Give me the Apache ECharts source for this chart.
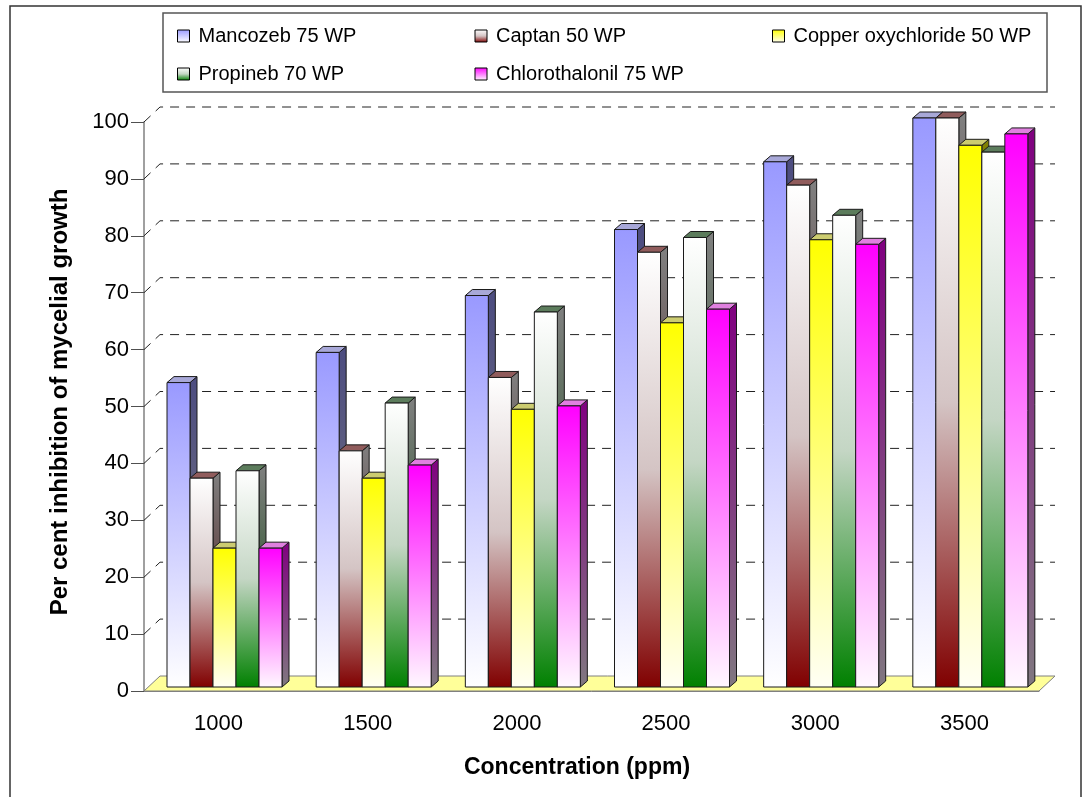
<!DOCTYPE html>
<html><head><meta charset="utf-8">
<script src="https://cdn.jsdelivr.net/npm/echarts@6/dist/echarts.min.js"></script>
<style>html,body{margin:0;padding:0;background:#fff}#c{width:1090px;height:797px}</style>
</head><body><div id="c"></div>
<script>
// ---- data ----
const categories = ['1000', '1500', '2000', '2500', '3000', '3500'];
const seriesNames = ['Mancozeb 75 WP', 'Captan 50 WP', 'Copper oxychloride 50 WP', 'Propineb 70 WP', 'Chlorothalonil 75 WP'];
const mancozeb = [53.5, 58.8, 68.8, 80.4, 92.3, 100];
const captan = [36.7, 41.5, 54.4, 76.4, 88.2, 100];
const copper = [24.4, 36.7, 48.8, 64.0, 78.6, 95.2];
const propineb = [38.0, 49.9, 65.9, 79.0, 82.9, 94.0];
const chlorothalonil = [24.4, 39.0, 49.4, 66.4, 77.8, 97.2];
const yTicks = [0, 10, 20, 30, 40, 50, 60, 70, 80, 90, 100];
const allValues = [mancozeb, captan, copper, propineb, chlorothalonil];

// ---- styles ----
const FONT = '"Liberation Sans", Arial, Helvetica, sans-serif';
const palette = [
  {front: [[0, '#9999FF'], [1, '#FFFFFF']], side: [[0, '#4C4C80'], [1, '#808080']], top: '#A8A8D8'},
  {front: [[0, '#FFFFFF'], [0.5, '#D4C4C4'], [1, '#800000']], side: [[0, '#808080'], [1, '#400000']], top: '#905C5C'},
  {front: [[0, '#FFFF00'], [1, '#FFFFF4']], side: [[0, '#808000'], [1, '#808080']], top: '#CCCC70'},
  {front: [[0, '#FFFFFF'], [0.5, '#C4D6C4'], [1, '#008000']], side: [[0, '#808080'], [1, '#004000']], top: '#5C7C5C'},
  {front: [[0, '#FF00FF'], [1, '#FFF8FF']], side: [[0, '#800080'], [1, '#807880']], top: '#E080E0'}
];
function grad(stops) {
  return new echarts.graphic.LinearGradient(0, 0, 0, 1, stops.map(s => ({offset: s[0], color: s[1]})));
}
const DX = 7, DY = 6, LIFT = 4, WALL_DX = 16, WALL_DY = 15;

function barRenderer(s) {
  return function (params, api) {
    const ci = api.value(0), v = api.value(1);
    const base = api.coord([ci, 0]);
    const tp = api.coord([ci, v]);
    const band = api.size([1, 0])[0];
    const bw = band * 0.1542;
    const x0 = base[0] - band / 2 + bw * (1 + s);
    const x1 = x0 + bw;
    const yb = base[1] - LIFT, yt = tp[1] - LIFT;
    const c = palette[s];
    const st = {stroke: '#1a1a1a', lineWidth: 1};
    return {type: 'group', children: [
      {type: 'polygon', shape: {points: [[x1, yt], [x1 + DX, yt - DY], [x1 + DX, yb - DY], [x1, yb]]},
        style: Object.assign({fill: grad(c.side)}, st)},
      {type: 'polygon', shape: {points: [[x0, yt], [x0 + DX, yt - DY], [x1 + DX, yt - DY], [x1, yt]]},
        style: Object.assign({fill: c.top}, st)},
      {type: 'rect', shape: {x: x0, y: yt, width: bw, height: yb - yt},
        style: Object.assign({fill: grad(c.front)}, st)}
    ]};
  };
}

function wallRenderer(params, api) {
  const v = api.value(1);
  const cs = params.coordSys;
  const left = cs.x, right = cs.x + cs.width;
  const y = api.coord([0, v])[1];
  if (v === 0) {
    return {type: 'polygon', shape: {points: [[left, y], [left + WALL_DX, y - WALL_DY], [right + WALL_DX, y - WALL_DY], [right, y]]},
      style: {fill: '#FFFF99', stroke: '#808080', lineWidth: 1}};
  }
  return {type: 'polyline', shape: {points: [[left, y], [left + WALL_DX, y - WALL_DY], [right + WALL_DX, y - WALL_DY]]},
    style: {stroke: '#222', lineWidth: 1, lineDash: [9, 7], fill: null}};
}

const series = [{
  type: 'custom', name: 'wall', silent: true, z: 1,
  data: yTicks.map(v => [0, v]), encode: {x: 0, y: 1},
  renderItem: wallRenderer
}];
seriesNames.forEach((name, s) => {
  series.push({
    type: 'custom', name: name, z: 2,
    itemStyle: {color: grad(palette[s].front)},
    data: allValues[s].map((v, i) => [i, v]), encode: {x: 0, y: 1},
    renderItem: barRenderer(s)
  });
});

const chart = echarts.init(document.getElementById('c'), null, {renderer: 'canvas'});
chart.setOption({
  animation: false,
  backgroundColor: '#fff',
  textStyle: {fontFamily: FONT},
  grid: {left: 144, right: 51, top: 122, bottom: 106, containLabel: false},
  legend: {
    data: seriesNames, left: 177, top: 17, width: 900, padding: 0, itemGap: 0,
    itemWidth: 12, itemHeight: 12, icon: 'rect',
    itemStyle: {borderColor: '#000', borderWidth: 1},
    textStyle: {fontFamily: FONT, fontSize: 20, color: '#000', width: 276, lineHeight: 38, padding: [0, 0, 0, 4]}
  },
  xAxis: [{
    type: 'category', data: categories, boundaryGap: true,
    axisLine: {lineStyle: {color: '#808080', width: 1}},
    axisTick: {length: 11, lineStyle: {color: '#505050'}},
    axisLabel: {fontFamily: FONT, fontSize: 22, color: '#000', margin: 22, lineHeight: 22},
    splitLine: {show: false}
  }, {
    type: 'category', data: categories, boundaryGap: true, position: 'bottom',
    axisLine: {show: false},
    axisTick: {alignWithLabel: true, length: 7, lineStyle: {color: '#808080'}},
    axisLabel: {show: false}, splitLine: {show: false}
  }],
  yAxis: {
    type: 'value', min: 0, max: 100, interval: 10,
    axisLine: {show: true, lineStyle: {color: '#808080', width: 1.5}},
    axisTick: {show: true, length: 13, lineStyle: {color: '#505050'}},
    axisLabel: {fontFamily: FONT, fontSize: 22, color: '#000', margin: 15},
    splitLine: {show: false}
  },
  graphic: [
    {type: 'rect', z: -10, shape: {x: 10, y: 6, width: 1071, height: 800}, style: {fill: '#fff', stroke: '#333', lineWidth: 1.5}},
    {type: 'rect', z: 0, shape: {x: 163, y: 13, width: 884, height: 79}, style: {fill: '#fff', stroke: '#555', lineWidth: 1.5}},
    {type: 'text', x: 577, y: 768, style: {text: 'Concentration (ppm)', font: 'bold 23px ' + FONT, fill: '#000', align: 'center', verticalAlign: 'middle'}},
    {type: 'text', x: 60.5, y: 402, rotation: Math.PI / 2, style: {text: 'Per cent inhibition of mycelial growth', font: 'bold 24px ' + FONT, fill: '#000', align: 'center', verticalAlign: 'middle'}}
  ],
  series: series
});
</script></body></html>
